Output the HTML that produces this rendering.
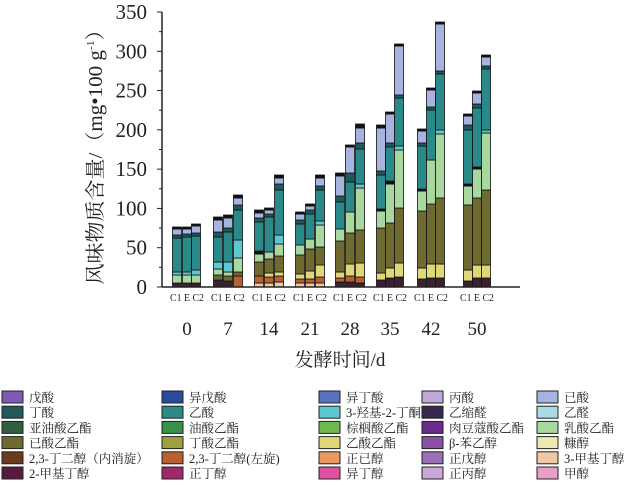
<!DOCTYPE html><html><head><meta charset="utf-8"><style>
body{margin:0;background:#fff;width:631px;height:486px;overflow:hidden}
svg{display:block;font-family:"Liberation Serif","Noto Serif CJK SC",serif}
</style></head><body>
<svg id="s" width="631" height="486" xmlns="http://www.w3.org/2000/svg"></svg>
<script>
const C={b:'#3a2030',o:'#b86030',p:'#f0c8a8',y:'#e0d878',ol:'#6e6a30',g:'#a8d8a0',k:'#111',c:'#5cc8d4',t:'#2a8a8a',d:'#1e5a5a',l:'#a8b4e0'};
const bars=[
[177,[['b',283],['g',275],['c',272],['t',238],['d',235],['l',229],['k',227]]],
[187,[['b',283],['g',275],['c',272],['t',237],['d',234],['l',229],['k',227]]],
[196,[['b',283],['g',275],['c',270],['t',236],['d',233],['l',226],['k',224]]],
[218,[['b',280],['ol',275],['g',269],['c',262],['t',237],['d',232],['l',220],['k',217]]],
[228,[['b',281],['ol',276],['g',272],['c',262],['t',232],['d',228],['l',218],['k',215]]],
[238,[['o',276],['ol',272],['g',258],['c',240],['t',210],['d',205],['l',198],['k',195]]],
[259,[['p',283],['o',276],['ol',262],['g',254],['k',251],['t',222],['d',218],['l',213],['k',210]]],
[269,[['p',283],['o',277],['y',273],['ol',259],['g',252],['t',217],['d',214],['l',210],['k',208]]],
[279,[['p',282],['o',276],['y',272],['ol',256],['g',244],['c',235],['t',190],['d',184],['l',178],['k',175]]],
[300,[['p',283],['o',279],['y',274],['ol',255],['g',245],['t',224],['d',220],['l',214],['k',212]]],
[310,[['p',283],['o',279],['y',271],['ol',249],['g',239],['t',214],['d',210],['l',206],['k',204]]],
[320,[['p',283],['o',277],['y',265],['ol',247],['g',225],['c',221],['t',190],['d',186],['l',178],['k',175]]],
[340,[['b',282],['o',278],['y',272],['ol',241],['g',229],['t',202],['d',196],['l',176],['k',173]]],
[350,[['b',282],['o',276],['y',264],['ol',233],['g',212],['t',182],['d',173],['l',147],['k',145]]],
[360,[['b',283],['o',277],['y',263],['ol',230],['g',188],['c',184],['t',149],['d',143],['l',128],['k',124]]],
[381,[['b',280],['y',273],['ol',228],['g',211],['k',209],['t',175],['d',171],['l',128],['k',125]]],
[390,[['b',278],['y',268],['ol',223],['g',184],['k',181],['t',147],['d',143],['l',114],['k',112]]],
[399,[['b',277],['y',263],['ol',208],['g',150],['c',146],['t',98],['d',95],['l',46],['k',44]]],
[422,[['b',279],['y',268],['ol',211],['g',191],['k',189],['t',146],['d',143],['l',131],['k',129]]],
[431,[['b',278],['y',264],['ol',204],['g',160],['t',110],['d',107],['l',90],['k',88]]],
[440,[['b',278],['y',264],['ol',198],['g',134],['c',130],['t',74],['d',71],['l',24],['k',22]]],
[468,[['b',281],['y',270],['ol',205],['g',186],['k',184],['t',130],['d',125],['l',116],['k',114]]],
[477,[['b',278],['y',265],['ol',198],['g',169],['k',167],['t',108],['d',104],['l',93],['k',91]]],
[486,[['b',278],['y',265],['ol',190],['g',133],['c',130],['t',69],['d',66],['l',57],['k',55]]]];
let h='';const W=9;
for(const [x,segs] of bars){let bot=287;for(const [c,t] of segs){h+=`<rect x="${x-W/2}" y="${t}" width="${W}" height="${bot-t}" fill="${C[c]}" stroke="#111" stroke-width="0.8"/>`;bot=t;}}
h+=`<line x1="162" y1="12" x2="162" y2="287" stroke="#222" stroke-width="1.5"/><line x1="162" y1="287" x2="520" y2="287" stroke="#222" stroke-width="1.5"/>`;
for(let v=0;v<=350;v+=25){const y=287-v*275/350;h+=`<line x1="${v%50?159:157}" y1="${y}" x2="162" y2="${y}" stroke="#222"/>`;if(v%50==0)h+=`<text x="147" y="${y+7}" font-size="21" text-anchor="end" fill="#222">${v}</text>`;}
const grp=[[187,'0'],[228,'7'],[269,'14'],[310,'21'],[350,'28'],[390,'35'],[431,'42'],[477,'50']];
for(const [x,l] of grp){h+=`<text x="${x}" y="301" font-size="11" text-anchor="middle" fill="#222" textLength="34" lengthAdjust="spacingAndGlyphs">C1 E C2</text><text x="${x}" y="335" font-size="19" text-anchor="middle" fill="#222">${l}</text>`;}
h+=`<text x="340" y="366" font-size="19" text-anchor="middle" fill="#222">发酵时间/d</text>`;
h+=`<text transform="translate(102,152) rotate(-90)" font-size="20" text-anchor="middle" fill="#222" textLength="265" lengthAdjust="spacingAndGlyphs">风味物质含量/（mg•100 g<tspan font-size="11" dy="-8">-1</tspan><tspan dy="8">）</tspan></text>`;
const L=[[['#7d5ab8','戊酸'],['#2a4aa0','异戊酸'],['#5872c0','异丁酸'],['#c0a8d8','丙酸'],['#a8b4e0','已酸']],
[['#1e5a5a','丁酸'],['#2a8a8a','乙酸'],['#5cc8d4','3-羟基-2-丁酮'],['#3a2850','乙缩醛'],['#a8dce0','乙醛']],
[['#2e6040','亚油酸乙酯'],['#38904c','油酸乙酯'],['#70b850','棕榈酸乙酯'],['#6a2a88','肉豆蔻酸乙酯'],['#a8d8a0','乳酸乙酯']],
[['#6e6a30','已酸乙酯'],['#a0a040','丁酸乙酯'],['#e0d878','乙酸乙酯'],['#8a50a8','β-苯乙醇'],['#ece8b0','糠醇']],
[['#6a3a20','2,3-丁二醇（内消旋）'],['#b86030','2,3-丁二醇(左旋)'],['#e89860','正已醇'],['#9a70b8','正戊醇'],['#f0c8a8','3-甲基丁醇']],
[['#5a1840','2-甲基丁醇'],['#a02868','正丁醇'],['#e050a0','异丁醇'],['#c8a8d8','正丙醇'],['#e8a0c8','甲醇']]];
const cx=[2,162,319,422,537];
L.forEach((row,i)=>{const y=391+i*15.2;row.forEach(([c,t],j)=>{h+=`<rect x="${cx[j]}" y="${y}" width="21" height="12" fill="${c}" stroke="#222"/><text x="${cx[j]+27}" y="${y+11}" font-size="12.5" fill="#222">${t}</text>`;});});
document.getElementById('s').innerHTML=h;
</script></body></html>
